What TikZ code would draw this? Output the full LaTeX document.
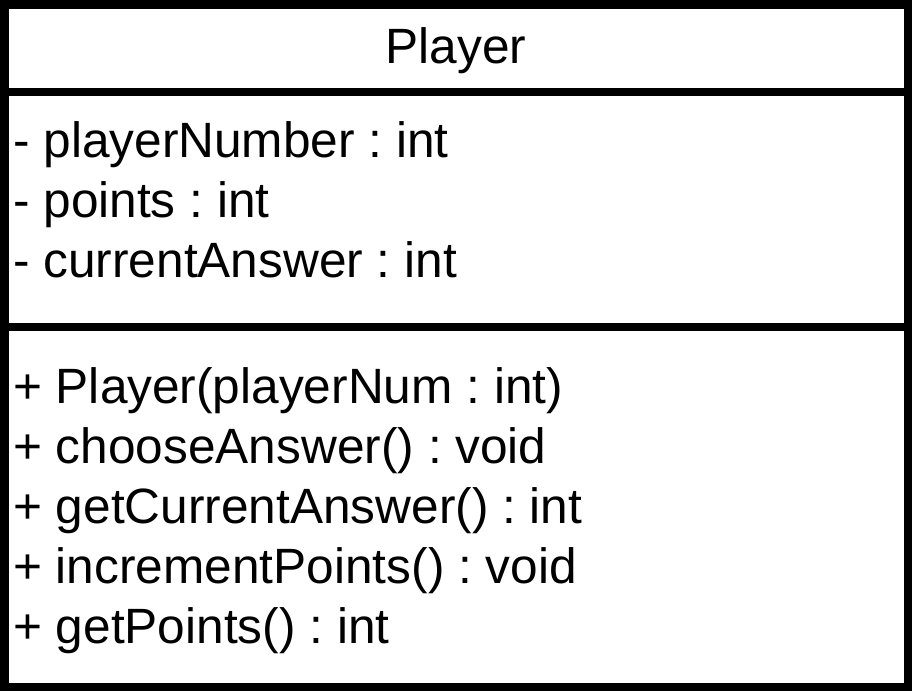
\documentclass[tikz,border=0pt]{standalone}
\usepackage{fontspec}
\setmainfont{Liberation Sans}
\begin{document}
\frenchspacing
\begin{tikzpicture}[x=1pt,y=-1pt,
  umltext/.style={anchor=base west,inner sep=0pt,font=\fontsize{49.6}{60}\selectfont\frenchspacing},
  umltitle/.style={anchor=base,inner sep=0pt,font=\fontsize{49.6}{60}\selectfont},
  frame/.style={draw=black,line width=8.5pt}]
\useasboundingbox (0,0) rectangle (912,691);
\fill[white] (0,0) rectangle (912,691);
\draw[frame] (4.25,4.25) rectangle (907.75,686.75);
\coordinate (s1l) at (0,92);
\coordinate (s1r) at (912,92);
\coordinate (s2l) at (0,327);
\coordinate (s2r) at (912,327);
\draw[frame] (s1l) -- (s1r);
\draw[frame] (s2l) -- (s2r);
\node[umltitle] (title) at (456,63) {Player};
\node[umltext] (a1) at (13,157) {- playerNumber : int};
\node[umltext] (a2) at (13,217) {- points : int};
\node[umltext] (a3) at (13,277) {- currentAnswer : int};
\node[umltext] (m1) at (13,403) {+ Player(playerNum : int)};
\node[umltext] (m2) at (13,463) {+ chooseAnswer() : void};
\node[umltext] (m3) at (13,523) {+ getCurrentAnswer() : int};
\node[umltext] (m4) at (13,583) {+ incrementPoints() : void};
\node[umltext] (m5) at (13,643) {+ getPoints() : int};
\end{tikzpicture}
\end{document}
